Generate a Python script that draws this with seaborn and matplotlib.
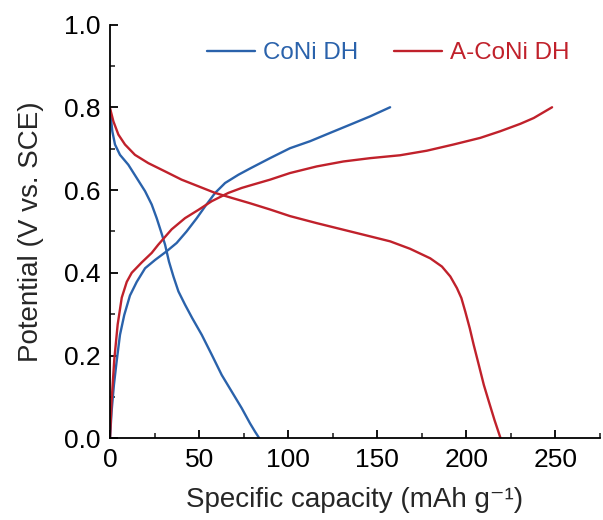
import numpy as np
import pandas as pd
import matplotlib
matplotlib.use("Agg")
import matplotlib.pyplot as plt
import seaborn as sns

# ---- data ----
coni_dis_x = [0, 1.3, 2.8, 5.6, 10.3, 15.0, 19.7, 23.4, 26.2, 28.6, 30.9, 33.1, 35.6, 38.4, 42.1, 46.2,
              51.5, 57.1, 62.7, 68.3, 73.9, 78.6, 81.4, 83.8]
coni_dis_y = [0.794, 0.742, 0.71, 0.685, 0.661, 0.629, 0.597, 0.565, 0.532, 0.5, 0.468, 0.427, 0.391, 0.355,
              0.323, 0.29, 0.25, 0.202, 0.153, 0.113, 0.073, 0.036, 0.016, 0.0]

coni_chg_x = [0, 0.9, 2.2, 3.7, 5.6, 8.0, 11.2, 15.0, 19.7, 25.3, 31.8, 37.4, 43.0, 48.7, 53.3, 59.0, 64.6,
              72.1, 78.6, 89.8, 101.0, 112.3, 123.5, 134.8, 146.0, 157.2]
coni_chg_y = [0.0, 0.065, 0.129, 0.185, 0.25, 0.298, 0.345, 0.378, 0.411, 0.431, 0.452, 0.472, 0.5, 0.532,
              0.56, 0.593, 0.617, 0.637, 0.652, 0.677, 0.701, 0.718, 0.738, 0.758, 0.778, 0.80]

aconi_dis_x = [0, 1.9, 4.7, 8.4, 14.0, 21.5, 30.9, 40.2, 49.6, 59.0, 68.3, 78.6, 89.8, 101.0, 116.0, 131.0,
               146.0, 157.2, 168.4, 179.7, 186.3, 191.0, 194.7, 197.2, 199.4, 201.9, 204.1, 207.0, 209.8,
               212.6, 215.8, 219.2]
aconi_dis_y = [0.798, 0.766, 0.734, 0.71, 0.685, 0.665, 0.645, 0.625, 0.609, 0.593, 0.581, 0.568, 0.553,
               0.537, 0.52, 0.504, 0.488, 0.476, 0.458, 0.435, 0.415, 0.391, 0.363, 0.339, 0.306, 0.266,
               0.226, 0.177, 0.129, 0.089, 0.044, 0.0]

aconi_chg_x = [0, 0.9, 2.4, 4.3, 6.6, 9.4, 12.2, 17.8, 23.4, 27.1, 34.6, 42.1, 49.6, 57.1, 66.4, 73.9, 78.6,
               89.8, 101.0, 116.0, 131.0, 146.0, 162.8, 177.8, 192.8, 207.8, 219.0, 230.3, 237.8, 248.1]
aconi_chg_y = [0.0, 0.09, 0.19, 0.275, 0.34, 0.378, 0.40, 0.425, 0.448, 0.468, 0.505, 0.532, 0.552, 0.573,
               0.593, 0.605, 0.611, 0.625, 0.641, 0.657, 0.669, 0.677, 0.684, 0.695, 0.71, 0.726, 0.742,
               0.76, 0.774, 0.80]

labels = ["CoNi DH", "A-CoNi DH"]
colors = ["#2a62ab", "#c0212b"]
x_ticks = [0, 50, 100, 150, 200, 250]
y_ticks = [0.0, 0.2, 0.4, 0.6, 0.8, 1.0]
y_tick_labels = ["0.0", "0.2", "0.4", "0.6", "0.8", "1.0"]

frames = []
for lab, branch, xs, ys in [
    (labels[0], "dis", coni_dis_x, coni_dis_y),
    (labels[0], "chg", coni_chg_x, coni_chg_y),
    (labels[1], "dis", aconi_dis_x, aconi_dis_y),
    (labels[1], "chg", aconi_chg_x, aconi_chg_y),
]:
    frames.append(pd.DataFrame({"cap": xs, "pot": ys, "sample": lab, "branch": lab + branch}))
df = pd.concat(frames, ignore_index=True)

sns.set_theme(style="ticks")
plt.rcParams["font.family"] = ["Liberation Sans", "DejaVu Sans"]

fig = plt.figure(figsize=(6.03, 5.2), dpi=100)
ax = fig.add_axes([110 / 603, 1 - 438.3 / 520, 490 / 603, (438.3 - 24.5) / 520])

sns.lineplot(data=df, x="cap", y="pot", hue="sample", units="branch", estimator=None,
             sort=False, palette=dict(zip(labels, colors)), linewidth=1.7, ax=ax)

ax.set_xlim(0, 275)
ax.set_ylim(0, 1.0)
ax.set_xticks(x_ticks)
ax.set_xticks(np.arange(25, 276, 50), minor=True)
ax.set_yticks(y_ticks)
ax.set_yticks(np.arange(0.1, 1.0, 0.2), minor=True)
ax.set_yticklabels(y_tick_labels)

for s in ["top", "right"]:
    ax.spines[s].set_visible(False)
for s in ["left", "bottom"]:
    ax.spines[s].set_linewidth(1.3)
    ax.spines[s].set_color("black")

ax.tick_params(which="major", direction="in", length=6, width=1.3, labelsize=19, pad=7, colors="black")
ax.tick_params(which="minor", direction="in", length=3.5, width=1.2)

ax.set_xlabel("Specific capacity (mAh g\u207b\u00b9)", fontsize=20, labelpad=10.5)
ax.set_ylabel("Potential (V vs. SCE)", fontsize=20, labelpad=14)

handles, labs = ax.get_legend_handles_labels()
leg = ax.legend(handles, labs, loc="center left", bbox_to_anchor=(0.198, 0.930), ncol=2,
                frameon=False, fontsize=17.4, handlelength=2.0, handletextpad=0.3,
                columnspacing=1.5, borderpad=0, borderaxespad=0)
for txt, c in zip(leg.get_texts(), colors):
    txt.set_color(c)
for h in leg.get_lines():
    h.set_linewidth(1.7)

fig.savefig("out.png", dpi=100)
